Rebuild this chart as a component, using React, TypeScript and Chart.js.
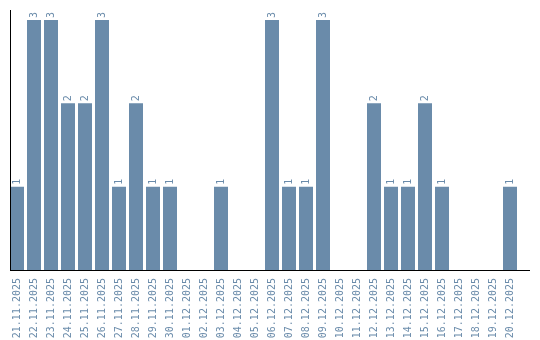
import React, { useEffect, useRef } from "react";
import { Chart, registerables } from "chart.js";

Chart.register(...registerables);

const categories = [
  "21.11.2025", "22.11.2025", "23.11.2025", "24.11.2025", "25.11.2025",
  "26.11.2025", "27.11.2025", "28.11.2025", "29.11.2025", "30.11.2025",
  "01.12.2025", "02.12.2025", "03.12.2025", "04.12.2025", "05.12.2025",
  "06.12.2025", "07.12.2025", "08.12.2025", "09.12.2025", "10.12.2025",
  "11.12.2025", "12.12.2025", "13.12.2025", "14.12.2025", "15.12.2025",
  "16.12.2025", "17.12.2025", "18.12.2025", "19.12.2025", "20.12.2025",
];

const counts = [
  1, 3, 3, 2, 2, 3, 1, 2, 1, 1,
  0, 0, 1, 0, 0, 3, 1, 1, 3, 0,
  0, 2, 1, 1, 2, 1, 0, 0, 0, 1,
];

const BAR_COLOR = "rgb(106,139,170)";
const FONT = "'DejaVu Sans Mono', monospace";

const valueLabels = {
  id: "valueLabels",
  afterDatasetsDraw(chart: any) {
    const ctx = chart.ctx;
    const meta = chart.getDatasetMeta(0);
    ctx.save();
    ctx.fillStyle = BAR_COLOR;
    ctx.font = `10px ${FONT}`;
    ctx.textAlign = "left";
    ctx.textBaseline = "middle";
    meta.data.forEach((bar: any, i: number) => {
      const v = counts[i];
      if (!v) return;
      ctx.save();
      ctx.translate(bar.x, bar.y - 2);
      ctx.rotate(-Math.PI / 2);
      ctx.fillText(String(v), 0, 0);
      ctx.restore();
    });
    ctx.restore();
  },
};

const axisLines = {
  id: "axisLines",
  afterDraw(chart: any) {
    const ctx = chart.ctx;
    const a = chart.chartArea;
    ctx.save();
    ctx.fillStyle = "#000";
    ctx.fillRect(10, a.top, 1, a.bottom - a.top + 1);
    ctx.fillRect(10, a.bottom, 520, 1);
    ctx.restore();
  },
};

export default function App() {
  const ref = useRef<HTMLCanvasElement>(null);
  useEffect(() => {
    if (!ref.current) return;
    const chart = new Chart(ref.current, {
      type: "bar",
      data: {
        labels: categories,
        datasets: [
          {
            data: counts,
            backgroundColor: BAR_COLOR,
            borderWidth: 0,
            categoryPercentage: 1,
            barPercentage: 14 / 17,
          },
        ],
      },
      options: {
        animation: false,
        responsive: false,
        maintainAspectRatio: false,
        layout: { padding: { left: 8.5, right: 21.5, top: 10, bottom: 0 } },
        plugins: { legend: { display: false }, tooltip: { enabled: false } },
        scales: {
          y: { display: false, min: 0, max: 3.12 },
          x: {
            grid: { display: false },
            border: { display: false },
            ticks: {
              color: BAR_COLOR,
              font: { family: FONT, size: 10 },
              minRotation: 90,
              maxRotation: 90,
              autoSkip: false,
              padding: 0,
            },
            afterFit(scale: any) {
              scale.height = 70;
            },
          },
        },
      },
      plugins: [valueLabels, axisLines],
    });
    return () => chart.destroy();
  }, []);
  return (
    <div style={{ position: "fixed", left: 0, top: 0, width: 540, height: 340, background: "#fff" }}>
      <canvas ref={ref} width={540} height={340} style={{ display: "block" }} />
    </div>
  );
}
